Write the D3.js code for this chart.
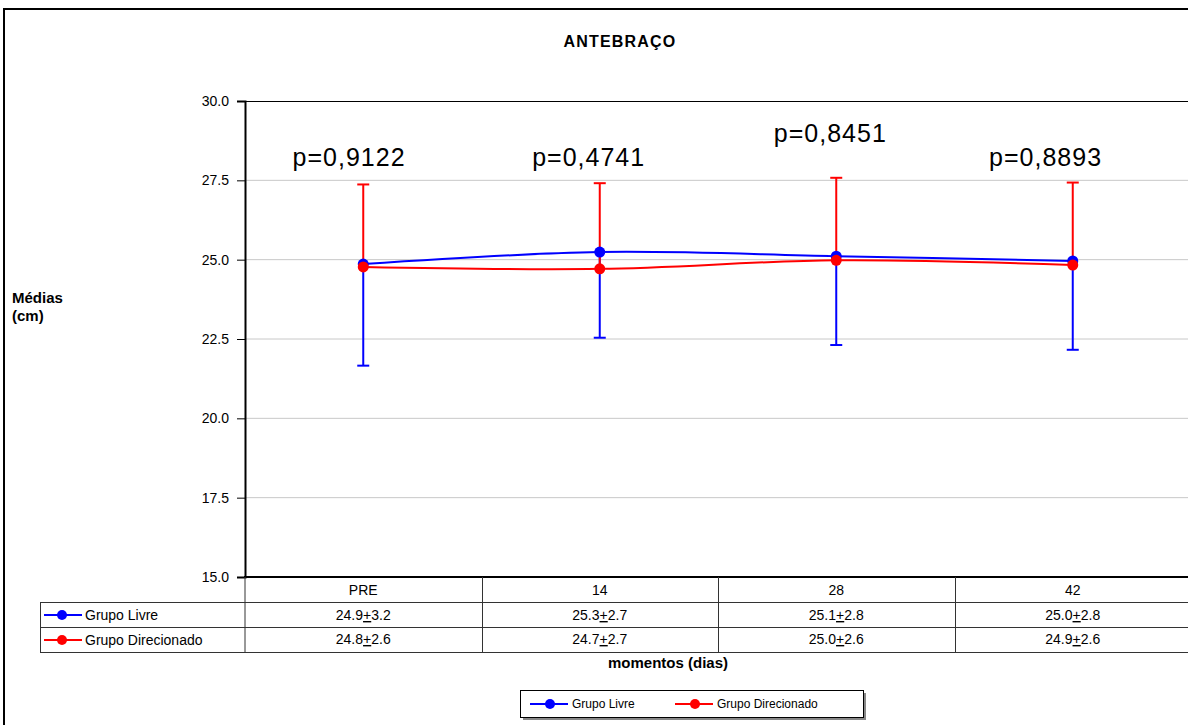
<!DOCTYPE html>
<html><head><meta charset="utf-8">
<script src="https://cdn.jsdelivr.net/npm/d3@7"></script>
<style>body{margin:0;background:#fff;} svg{display:block;font-family:"Liberation Sans",Arial,sans-serif;}</style>
</head><body>
<script>
const categories = ["PRE","14","28","42"];
const livreMean = [24.86, 25.24, 25.11, 24.96];
const livreSD = [3.2, 2.7, 2.8, 2.8];
const direcMean = [24.77, 24.71, 24.98, 24.83];
const direcSD = [2.6, 2.7, 2.6, 2.6];
const livreText = ["24.9", "25.3", "25.1", "25.0"];
const livreSDText = ["3.2", "2.7", "2.8", "2.8"];
const direcText = ["24.8", "24.7", "25.0", "24.9"];
const direcSDText = ["2.6", "2.7", "2.6", "2.6"];
const pValues = ["p=0,9122","p=0,4741","p=0,8451","p=0,8893"];
const pLevel = [27.95, 27.95, 28.7, 27.95];
const yTicks = [15, 17.5, 20, 22.5, 25, 27.5, 30];
const seriesNames = ["Grupo Livre","Grupo Direcionado"];
const colors = ["#0000FF","#FF0000"];

const W = 1188, H = 725;
const svg = d3.select("body").append("svg").attr("width", W).attr("height", H);

// outer frame
svg.append("rect").attr("x",4).attr("y",9).attr("width",W+10).attr("height",H+10)
  .attr("fill","none").attr("stroke","#000").attr("stroke-width",2);

const x = d3.scaleBand().domain(categories).range([245, 1191]);
const y = d3.scaleLinear().domain([15, 30]).range([577, 101]);
const pShift = [-0.06, -0.047, -0.025, -0.115]; // label offset, fraction of band

// gridlines
svg.append("g").selectAll("line").data(yTicks.filter(t => t > 15 && t < 30)).join("line")
  .attr("x1", 245).attr("x2", W).attr("y1", d => y(d)).attr("y2", d => y(d))
  .attr("stroke", "#c8c8c8").attr("stroke-width", 1);
svg.append("line").attr("x1",245).attr("x2",W).attr("y1",y(30)+0.5).attr("y2",y(30)+0.5)
  .attr("stroke","#000").attr("stroke-width",1);

// y axis
const yAxis = d3.axisLeft(y).tickValues(yTicks).tickFormat(d3.format(".1f")).tickSizeOuter(0).tickSize(8).tickPadding(8);
const ga = svg.append("g").attr("transform","translate(245,0)").call(yAxis);
ga.select(".domain").attr("stroke","#000").attr("stroke-width",2);
ga.selectAll(".tick line").attr("stroke","#000");
ga.selectAll(".tick text").attr("font-size",14).attr("fill","#000").attr("font-family","Liberation Sans, Arial, sans-serif");

// bottom axis line
svg.append("line").attr("x1",244).attr("x2",W).attr("y1",y(15)).attr("y2",y(15))
  .attr("stroke","#000").attr("stroke-width",2);

// title & labels
svg.append("text").attr("x",620).attr("y",47).attr("text-anchor","middle")
  .attr("font-size",16).attr("letter-spacing",1.2).attr("font-weight","bold").text("ANTEBRAÇO");
svg.append("text").attr("x",12).attr("y",303).attr("font-size",15).attr("font-weight","bold").text("Médias");
svg.append("text").attr("x",12).attr("y",321).attr("font-size",15).attr("font-weight","bold").text("(cm)");
svg.append("text").attr("x",608).attr("y",668).attr("text-anchor","start")
  .attr("font-size",15).attr("font-weight","bold").text("momentos (dias)");

const cx = c => x(c) + x.bandwidth()/2;

// p-values
svg.append("g").selectAll("text").data(categories).join("text")
  .attr("x", (c,i) => cx(c) + pShift[i]*x.bandwidth()).attr("y", (c,i) => y(pLevel[i]))
  .attr("text-anchor","middle").attr("font-size",25).attr("letter-spacing",1).attr("fill","#000")
  .text((c,i) => pValues[i]);

const line = d3.line().x((d,i) => cx(categories[i])).y(d => y(d)).curve(d3.curveCatmullRom.alpha(0.5));

// error bars: blue down, red up
function drawSeries(means, sds, color, dir) {
  const g = svg.append("g");
  g.selectAll("line.eb").data(means).join("line").attr("class","eb")
    .attr("x1",(d,i)=>cx(categories[i])).attr("x2",(d,i)=>cx(categories[i]))
    .attr("y1",d=>y(d)).attr("y2",(d,i)=>y(d + dir*sds[i]))
    .attr("stroke",color).attr("stroke-width",2);
  g.selectAll("line.cap").data(means).join("line").attr("class","cap")
    .attr("x1",(d,i)=>cx(categories[i])-6).attr("x2",(d,i)=>cx(categories[i])+6)
    .attr("y1",(d,i)=>y(d + dir*sds[i])).attr("y2",(d,i)=>y(d + dir*sds[i]))
    .attr("stroke",color).attr("stroke-width",2);
  return g;
}
drawSeries(livreMean, livreSD, colors[0], -1);
drawSeries(direcMean, direcSD, colors[1], 1);
svg.append("path").datum(livreMean).attr("d", line).attr("fill","none").attr("stroke",colors[0]).attr("stroke-width",2);
svg.append("g").selectAll("circle").data(livreMean).join("circle")
  .attr("cx",(d,i)=>cx(categories[i])).attr("cy",d=>y(d)).attr("r",5.5).attr("fill",colors[0]);
svg.append("path").datum(direcMean).attr("d", line).attr("fill","none").attr("stroke",colors[1]).attr("stroke-width",2);
svg.append("g").selectAll("circle").data(direcMean).join("circle")
  .attr("cx",(d,i)=>cx(categories[i])).attr("cy",d=>y(d)).attr("r",5.5).attr("fill",colors[1]);

// data table
const tg = svg.append("g").attr("font-size",14);
const gridC = "#333";
[602, 627].forEach(yy => tg.append("line").attr("x1",40).attr("x2",W).attr("y1",yy+0.5).attr("y2",yy+0.5).attr("stroke",gridC));
tg.append("line").attr("x1",40).attr("x2",W).attr("y1",652.5).attr("y2",652.5).attr("stroke",gridC);
tg.append("line").attr("x1",40.5).attr("x2",40.5).attr("y1",602).attr("y2",652).attr("stroke",gridC);
tg.append("line").attr("x1",245).attr("x2",245).attr("y1",577).attr("y2",652).attr("stroke",gridC);
categories.forEach((c,i) => {
  if (i > 0) tg.append("line").attr("x1",Math.round(x(c))+0.5).attr("x2",Math.round(x(c))+0.5)
    .attr("y1",577).attr("y2",652).attr("stroke",gridC);
  tg.append("text").attr("x",cx(c)).attr("y",595).attr("text-anchor","middle").text(c);
});
function pmText(sel, mean, sd) {
  sel.append("tspan").text(mean);
  sel.append("tspan").attr("text-decoration","underline").text("+");
  sel.append("tspan").text(sd);
}
categories.forEach((c,i) => {
  pmText(tg.append("text").attr("x",cx(c)).attr("y",620).attr("text-anchor","middle"), livreText[i], livreSDText[i]);
  pmText(tg.append("text").attr("x",cx(c)).attr("y",644).attr("text-anchor","middle"), direcText[i], direcSDText[i]);
});
[[615, 0],[640, 1]].forEach(([yy, k]) => {
  tg.append("line").attr("x1",44).attr("x2",82).attr("y1",yy).attr("y2",yy).attr("stroke",colors[k]).attr("stroke-width",2);
  tg.append("circle").attr("cx",62).attr("cy",yy).attr("r",5).attr("fill",colors[k]);
  tg.append("text").attr("x",85).attr("y",yy+5).text(seriesNames[k]);
});

// legend
const lg = svg.append("g");
lg.append("rect").attr("x",523).attr("y",693).attr("width",343).attr("height",27).attr("fill","#888");
lg.append("rect").attr("x",520.5).attr("y",690.5).attr("width",343).attr("height",27).attr("fill","#fff").attr("stroke","#000");
const legX = [530, 675];
seriesNames.forEach((n,k) => {
  lg.append("line").attr("x1",legX[k]).attr("x2",legX[k]+38).attr("y1",704).attr("y2",704).attr("stroke",colors[k]).attr("stroke-width",2);
  lg.append("circle").attr("cx",legX[k]+20).attr("cy",704).attr("r",5).attr("fill",colors[k]);
  lg.append("text").attr("x",legX[k]+42).attr("y",708).attr("font-size",12).text(n);
});
</script>
</body></html>
